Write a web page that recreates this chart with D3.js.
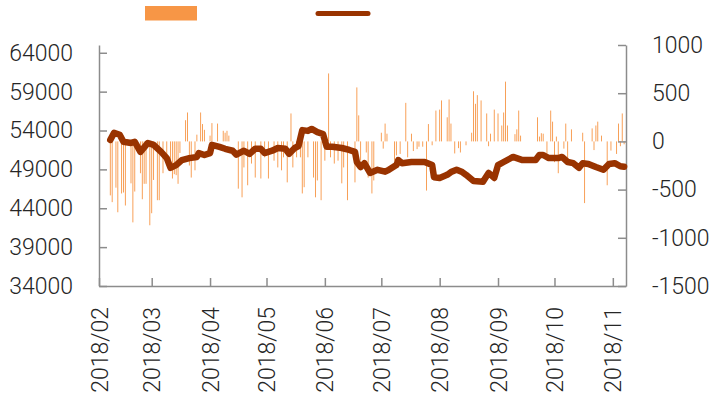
<!DOCTYPE html>
<html>
<head>
<meta charset="utf-8">
<script src="https://cdnjs.cloudflare.com/ajax/libs/d3/7.8.5/d3.min.js"></script>
<style>
  body { margin: 0; background: #fff; }
  text { font-family: Roboto, "Open Sans", sans-serif; font-weight: 300; fill: #262626; }
  .axis path, .axis line { stroke: #8c8c8c; stroke-width: 1.5px; }
</style>
</head>
<body>
<div id="graphic"></div>
<script>
// line series (left axis)
var lineDates = ["2018-02-07","2018-02-09","2018-02-12","2018-02-14","2018-02-18","2018-02-20","2018-02-23","2018-02-27",
  "2018-03-02","2018-03-06","2018-03-09","2018-03-11","2018-03-14","2018-03-17","2018-03-21","2018-03-25","2018-03-26","2018-03-29",
  "2018-04-01","2018-04-02","2018-04-06","2018-04-09","2018-04-13","2018-04-15","2018-04-19","2018-04-22","2018-04-25","2018-04-28","2018-04-30",
  "2018-05-04","2018-05-07","2018-05-11","2018-05-13","2018-05-16","2018-05-18","2018-05-20","2018-05-23","2018-05-25","2018-05-28","2018-05-31",
  "2018-06-02","2018-06-05","2018-06-10","2018-06-14","2018-06-17","2018-06-18","2018-06-20","2018-06-22","2018-06-25","2018-06-29",
  "2018-07-03","2018-07-05","2018-07-09","2018-07-10","2018-07-12","2018-07-17","2018-07-24","2018-07-28","2018-07-29",
  "2018-08-01","2018-08-05","2018-08-07","2018-08-10","2018-08-13","2018-08-15","2018-08-19","2018-08-24","2018-08-27","2018-08-30",
  "2018-09-01","2018-09-04","2018-09-09","2018-09-14","2018-09-21","2018-09-23","2018-09-25","2018-09-28",
  "2018-10-03","2018-10-05","2018-10-08","2018-10-11","2018-10-14","2018-10-16","2018-10-19","2018-10-23","2018-10-27","2018-10-30",
  "2018-11-02","2018-11-05","2018-11-07"];
var lineValues = [52800,53700,53450,52550,52400,52550,51250,52400,
  52150,51250,50450,49200,49550,50200,50450,50600,51100,50850,
  51100,52150,51900,51650,51400,50900,51400,51000,51650,51650,51100,
  51400,51750,51650,51000,51750,52000,54050,53950,54200,53800,53550,
  51900,51900,51750,51500,51250,49950,49300,49800,48550,48950,
  48700,48950,49550,50200,49800,49950,49950,49550,48000,
  47900,48300,48650,48950,48650,48300,47500,47400,48550,47900,
  49550,49950,50600,50200,50200,50850,50850,50450,
  50450,50600,49950,49800,49200,49800,49700,49300,48950,49700,
  49800,49400,49350];

// bar series (right axis)
var barDates = ["2018-02-07","2018-02-08","2018-02-10","2018-02-11","2018-02-13","2018-02-14","2018-02-15","2018-02-18","2018-02-19","2018-02-20",
  "2018-02-23","2018-02-24","2018-02-25","2018-02-26","2018-02-28","2018-03-01","2018-03-02","2018-03-04","2018-03-05","2018-03-07",
  "2018-03-09","2018-03-11","2018-03-12","2018-03-13","2018-03-14","2018-03-15","2018-03-16","2018-03-19","2018-03-20","2018-03-21",
  "2018-03-22","2018-03-24","2018-03-25","2018-03-27","2018-03-28","2018-03-29","2018-04-01","2018-04-02","2018-04-05","2018-04-08",
  "2018-04-09","2018-04-10","2018-04-11","2018-04-16","2018-04-18","2018-04-19","2018-04-21","2018-04-23","2018-04-25","2018-04-28",
  "2018-04-30","2018-05-02","2018-05-05","2018-05-07","2018-05-09","2018-05-10","2018-05-12","2018-05-14","2018-05-15","2018-05-17",
  "2018-05-19","2018-05-20","2018-05-21","2018-05-23","2018-05-26","2018-05-27","2018-05-28","2018-05-30","2018-06-01","2018-06-03",
  "2018-06-04","2018-06-06","2018-06-08","2018-06-10","2018-06-11","2018-06-13","2018-06-17","2018-06-18","2018-06-19","2018-06-20",
  "2018-06-23","2018-06-24","2018-06-26","2018-06-27","2018-07-01","2018-07-02","2018-07-03","2018-07-04","2018-07-08","2018-07-09",
  "2018-07-11","2018-07-14","2018-07-15","2018-07-17","2018-07-18","2018-07-20","2018-07-21","2018-07-23","2018-07-25","2018-07-26",
  "2018-07-28","2018-07-30","2018-08-01","2018-08-02","2018-08-05","2018-08-06","2018-08-07","2018-08-09","2018-08-11","2018-08-12",
  "2018-08-15","2018-08-18","2018-08-19","2018-08-20","2018-08-21","2018-08-23","2018-08-26","2018-08-27","2018-08-28","2018-08-30",
  "2018-09-01","2018-09-03","2018-09-04","2018-09-05","2018-09-06","2018-09-10","2018-09-11","2018-09-12","2018-09-13","2018-09-22",
  "2018-09-23","2018-09-24","2018-09-25","2018-09-27","2018-09-29","2018-09-30","2018-10-01","2018-10-02","2018-10-03","2018-10-06",
  "2018-10-07","2018-10-08","2018-10-10","2018-10-16","2018-10-17","2018-10-21","2018-10-22","2018-10-23","2018-10-24","2018-10-26",
  "2018-10-29","2018-10-31","2018-11-03","2018-11-04","2018-11-05","2018-11-06","2018-11-07"];
var barValues = [-560,-630,-480,-735,-540,-530,-665,-435,-840,-520,
  -330,-600,-440,-440,-870,-745,-400,-610,-610,-330,
  -200,-300,-385,-340,-350,-440,-120,220,300,-250,
  -375,-300,70,300,180,120,60,190,185,110,
  90,110,60,-490,-580,-270,-455,-230,-375,-385,
  -165,-385,-200,-270,-300,-165,-425,290,-270,-165,
  -165,-540,-475,-165,-375,-580,-405,-610,-200,705,
  -165,-230,-200,-435,-270,-610,-425,560,270,-200,
  -115,-375,-540,-405,90,-75,185,80,-200,-145,
  -130,400,-165,80,-100,-80,-55,-55,-510,180,
  -40,320,330,425,250,435,185,-125,-70,-115,
  -40,90,520,390,480,425,290,-50,80,330,
  290,165,300,620,165,75,125,320,60,250,
  50,85,80,-125,320,205,-215,50,-330,-75,
  185,-230,125,90,-640,135,-90,165,205,60,
  -455,-95,-130,185,-50,290,-30];

var leftTicks = [34000,39000,44000,49000,54000,59000,64000];
var rightTicks = [-1500,-1000,-500,0,500,1000];
var monthTicks = ["2018-02-01","2018-03-01","2018-04-01","2018-05-01","2018-06-01",
  "2018-07-01","2018-08-01","2018-09-01","2018-10-01","2018-11-01"];

var parse = d3.timeParse("%Y-%m-%d");
var width = 717, height = 402;
var plot = {left: 99, right: 626, top: 45, bottom: 286};

var svg = d3.select("#graphic").append("svg")
  .attr("width", width)
  .attr("height", height);

// scales
var x = d3.scaleTime()
  .domain([parse("2018-02-01"), parse("2018-11-08")])
  .range([plot.left, plot.right]);
var yL = d3.scaleLinear().domain([34000, 65000]).range([plot.bottom, plot.top]);
var yR = d3.scaleLinear().domain([-1500, 1000]).range([plot.bottom, plot.top]);

// plain hyphen for negatives, like the original
var numFmt = d => String(d);

// bars
var bars = d3.zip(barDates, barValues).map(d => ({date: parse(d[0]), value: d[1]}));
svg.append("g").selectAll("rect")
  .data(bars)
  .join("rect")
  .attr("x", d => x(d.date) - 0.45)
  .attr("width", 0.9)
  .attr("y", d => Math.min(yR(d.value), yR(0)))
  .attr("height", d => Math.abs(yR(d.value) - yR(0)))
  .attr("fill", "#f79646");

// axes
svg.append("g")
  .attr("class", "axis")
  .attr("transform", "translate(" + plot.left + ",0)")
  .call(d3.axisLeft(yL).tickValues(leftTicks).tickSizeInner(-8).tickSizeOuter(0).tickPadding(26).tickFormat(numFmt))
  .selectAll("text").style("font-size", "23px");

svg.append("g")
  .attr("class", "axis")
  .attr("transform", "translate(" + plot.right + ",0)")
  .call(d3.axisRight(yR).tickValues(rightTicks).tickSizeInner(-8).tickSizeOuter(0).tickPadding(26).tickFormat(numFmt))
  .selectAll("text").style("font-size", "23px");

svg.append("g")
  .attr("class", "axis")
  .attr("transform", "translate(0," + plot.bottom + ")")
  .call(d3.axisBottom(x).tickValues(monthTicks.map(parse)).tickSizeInner(-8).tickSizeOuter(0).tickFormat(d3.timeFormat("%Y/%m")))
  .selectAll("text")
  .style("font-size", "23px")
  .attr("transform", "rotate(-90)")
  .attr("text-anchor", "end")
  .attr("x", -21)
  .attr("y", 0)
  .attr("dy", "0.35em");

// line
var lineData = d3.zip(lineDates, lineValues).map(d => ({date: parse(d[0]), value: d[1]}));
svg.append("path")
  .datum(lineData)
  .attr("fill", "none")
  .attr("stroke", "#993300")
  .attr("stroke-width", 6.5)
  .attr("stroke-linejoin", "round")
  .attr("stroke-linecap", "round")
  .attr("d", d3.line().x(d => x(d.date)).y(d => yL(d.value)));

// legend
svg.append("rect")
  .attr("x", 145).attr("y", 6)
  .attr("width", 52).attr("height", 14.5)
  .attr("fill", "#f79646");
svg.append("line")
  .attr("x1", 318).attr("x2", 368)
  .attr("y1", 13.5).attr("y2", 13.5)
  .attr("stroke", "#993300")
  .attr("stroke-width", 5)
  .attr("stroke-linecap", "round");
</script>
</body>
</html>
